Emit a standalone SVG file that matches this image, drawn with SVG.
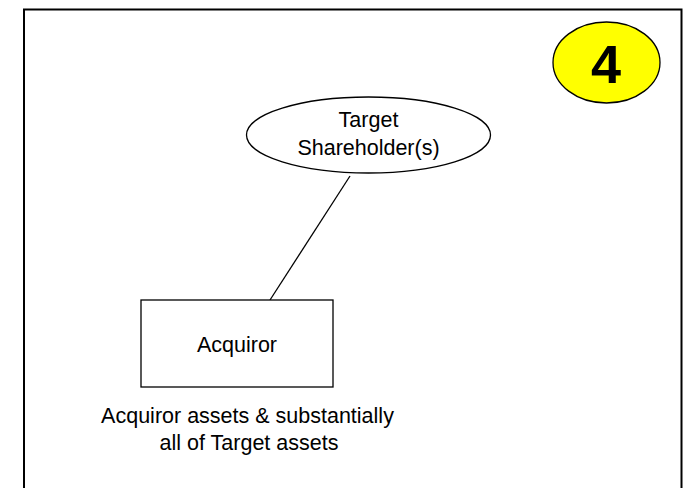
<svg xmlns="http://www.w3.org/2000/svg" width="687" height="488" viewBox="0 0 687 488">
<style>
text{font-family:"Liberation Sans",Arial,sans-serif;fill:#000;text-anchor:middle}
.n{font-size:21.5px}
.s{fill:#fff;stroke:#000;stroke-width:1.3}
</style>
<rect width="687" height="488" fill="#fff"/>
<path d="M24,500 V9.5 H681.5 V500" fill="none" stroke="#000" stroke-width="2"/>
<g id="badge">
<ellipse cx="606.5" cy="62.5" rx="53.5" ry="40.5" fill="#ffff00" stroke="#000" stroke-width="1.3"/>
<text x="606" y="83" style="font-size:54px;font-weight:bold">4</text>
</g>
<g id="connectors">
<line x1="350" y1="176" x2="270" y2="300" stroke="#000" stroke-width="1.3"/>
</g>
<g id="shareholders">
<ellipse class="s" cx="368.5" cy="135" rx="122" ry="38"/>
<text class="n" x="368.5" y="127">Target</text>
<text class="n" x="368.5" y="155">Shareholder(s)</text>
</g>
<g id="acquiror">
<rect class="s" x="141" y="300" width="192" height="87"/>
<text class="n" x="237" y="352">Acquiror</text>
</g>
<g id="label">
<text class="n" x="247.5" y="423">Acquiror assets &amp; substantially</text>
<text class="n" x="249" y="449.5">all of Target assets</text>
</g>
</svg>
